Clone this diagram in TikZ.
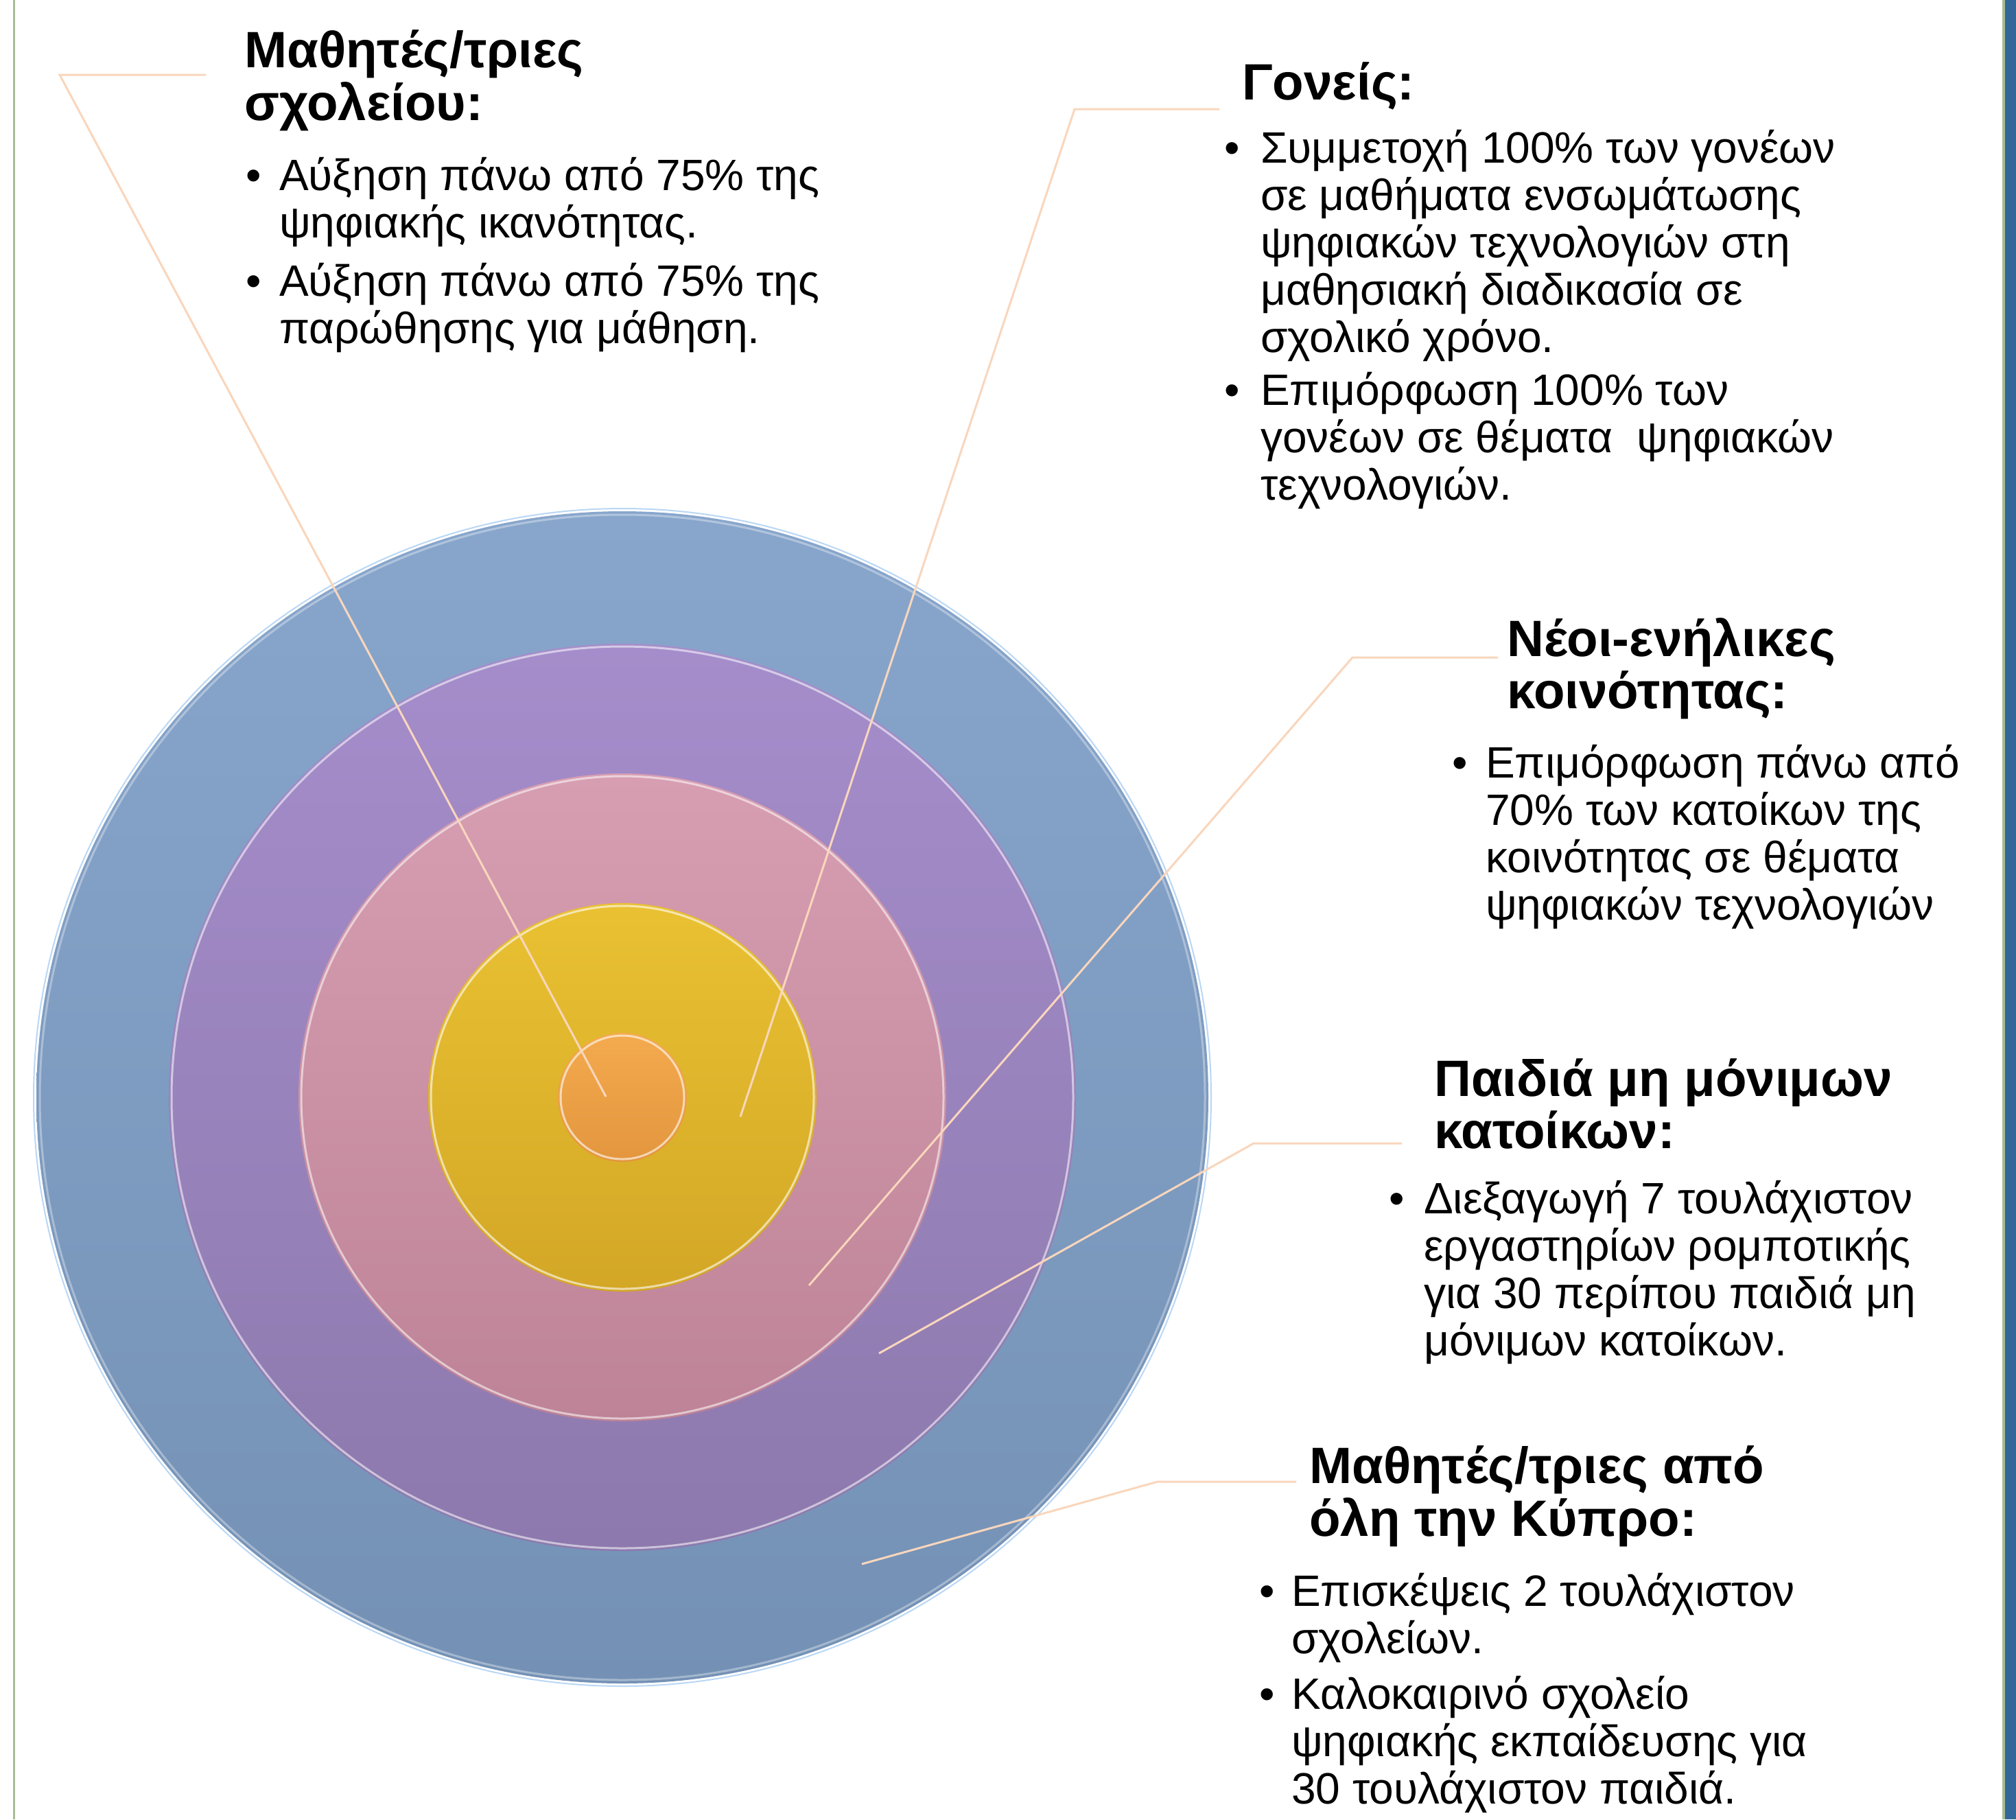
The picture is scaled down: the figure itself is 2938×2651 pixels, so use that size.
\documentclass[tikz,border=0pt]{standalone}
\usepackage{fontspec}
\setmainfont{Liberation Sans}
\definecolor{blueA}{RGB}{136,166,204}
\definecolor{blueB}{RGB}{116,145,181}
\definecolor{purA}{RGB}{165,141,203}
\definecolor{purB}{RGB}{141,121,173}
\definecolor{pinkA}{RGB}{215,158,178}
\definecolor{pinkB}{RGB}{190,131,150}
\definecolor{yelA}{RGB}{233,193,50}
\definecolor{yelB}{RGB}{211,167,38}
\definecolor{orA}{RGB}{244,170,78}
\definecolor{orB}{RGB}{227,150,62}
\definecolor{conn}{RGB}{249,214,188}
\definecolor{edgeg}{RGB}{170,188,150}
\definecolor{barblue}{RGB}{51,103,153}
\definecolor{rimblue}{RGB}{185,215,245}
\begin{document}
\begin{tikzpicture}[x=1pt,y=-1pt,
  ring/.style={circle,inner sep=0pt,outer sep=0pt,shading=axis,shading angle=45},
  rim/.style={draw=white,draw opacity=0.55,line width=3pt},
  connector/.style={draw=conn,line width=3pt},
  headtext/.style={anchor=base west,inner sep=0pt,font=\fontsize{74.5}{71}\selectfont\bfseries},
  listtext/.style={anchor=base west,inner sep=0pt,font=\fontsize{64}{69}\selectfont}]
\useasboundingbox (0,0) rectangle (2938,2651);
\fill[white] (0,0) rectangle (2938,2651);
% side rules
\fill[edgeg] (19,0) rectangle (22,2651);
\fill[edgeg] (2918,0) rectangle (2922,2651);
\fill[barblue] (2922,0) rectangle (2938,2651);
% rings
\node[ring,minimum size=1708pt,top color=blueA,bottom color=blueB] (outer) at (907,1599) {};
\draw[draw=rimblue,line width=2pt] (907,1599) circle[radius=858];
\draw[rim,draw opacity=0.35] (907,1599) circle[radius=849];
\node[ring,minimum size=1322pt,top color=purA,bottom color=purB] (purple) at (907,1599) {};
\draw[rim] (907,1599) circle[radius=657];
\node[ring,minimum size=944pt,top color=pinkA,bottom color=pinkB] (pink) at (907,1599) {};
\draw[rim] (907,1599) circle[radius=468];
\node[ring,minimum size=566pt,top color=yelA,bottom color=yelB] (yellow) at (907,1599) {};
\draw[draw=white,draw opacity=0.6,line width=3pt] (907,1599) circle[radius=279];
\node[ring,minimum size=188pt,top color=orA,bottom color=orB] (orange) at (907,1599) {};
\draw[rim,draw opacity=0.6] (907,1599) circle[radius=90];
% connector points
\coordinate (h1a) at (300,109);  \coordinate (h1b) at (87,109);   \coordinate (e1) at (883,1598);
\coordinate (h2a) at (1777,159); \coordinate (h2b) at (1566,159); \coordinate (e2) at (1079,1627);
\coordinate (h3a) at (2183,958); \coordinate (h3b) at (1971,958); \coordinate (e3) at (1179,1873);
\coordinate (h4a) at (2043,1666);\coordinate (h4b) at (1827,1666);\coordinate (e4) at (1281,1972);
\coordinate (h5a) at (1889,2159);\coordinate (h5b) at (1687,2159);\coordinate (e5) at (1256,2279);
\draw[connector] (h1a) -- (h1b) -- (e1);
\draw[connector] (h2a) -- (h2b) -- (e2);
\draw[connector] (h3a) -- (h3b) -- (e3);
\draw[connector] (h4a) -- (h4b) -- (e4);
\draw[connector] (h5a) -- (h5b) -- (e5);
% block 1
\node[headtext] (t1) at (356,98) {\begin{tabular}[t]{@{}l@{}}Μαθητές/τριες\\σχολείου:\end{tabular}};
\node[listtext] (l1) at (358,277) {\begin{tabular}[t]{@{}p{49pt}@{}l@{}}•&Αύξηση πάνω από 75\% της\\&ψηφιακής ικανότητας.\\[16pt]•&Αύξηση πάνω από 75\% της\\&παρώθησης για μάθηση.\end{tabular}};
% block 2
\node[headtext] (t2) at (1810,145) {Γονείς:};
\node[listtext] (l2) at (1784,237) {\begin{tabular}[t]{@{}p{53pt}@{}l@{}}•&Συμμετοχή 100\% των γονέων\\&σε μαθήματα ενσωμάτωσης\\&ψηφιακών τεχνολογιών στη\\&μαθησιακή διαδικασία σε\\&σχολικό χρόνο.\\[8pt]•&Επιμόρφωση 100\% των\\&γονέων σε θέματα\ \ ψηφιακών\\&τεχνολογιών.\end{tabular}};
% block 3
\node[headtext] (t3) at (2196,956) {\begin{tabular}[t]{@{}l@{}}Νέοι-ενήλικες\\κοινότητας:\end{tabular}};
\node[listtext] (l3) at (2116,1133) {\begin{tabular}[t]{@{}p{49pt}@{}l@{}}•&Επιμόρφωση πάνω από\\&70\% των κατοίκων της\\&κοινότητας σε θέματα\\&ψηφιακών τεχνολογιών\end{tabular}};
% block 4
\node[headtext] (t4) at (2090,1597) {\begin{tabular}[t]{@{}l@{}}Παιδιά μη μόνιμων\\κατοίκων:\end{tabular}};
\node[listtext] (l4) at (2024,1768) {\begin{tabular}[t]{@{}p{51pt}@{}l@{}}•&Διεξαγωγή 7 τουλάχιστον\\&εργαστηρίων ρομποτικής\\&για 30 περίπου παιδιά μη\\&μόνιμων κατοίκων.\end{tabular}};
% block 5
\node[headtext] (t5) at (1908,2161) {\begin{tabular}[t]{@{}l@{}}Μαθητές/τριες από\\όλη την Κύπρο:\end{tabular}};
\node[listtext] (l5) at (1835,2340) {\begin{tabular}[t]{@{}p{47pt}@{}l@{}}•&Επισκέψεις 2 τουλάχιστον\\&σχολείων.\\[12pt]•&Καλοκαιρινό σχολείο\\&ψηφιακής εκπαίδευσης για\\&30 τουλάχιστον παιδιά.\end{tabular}};
\end{tikzpicture}
\end{document}
